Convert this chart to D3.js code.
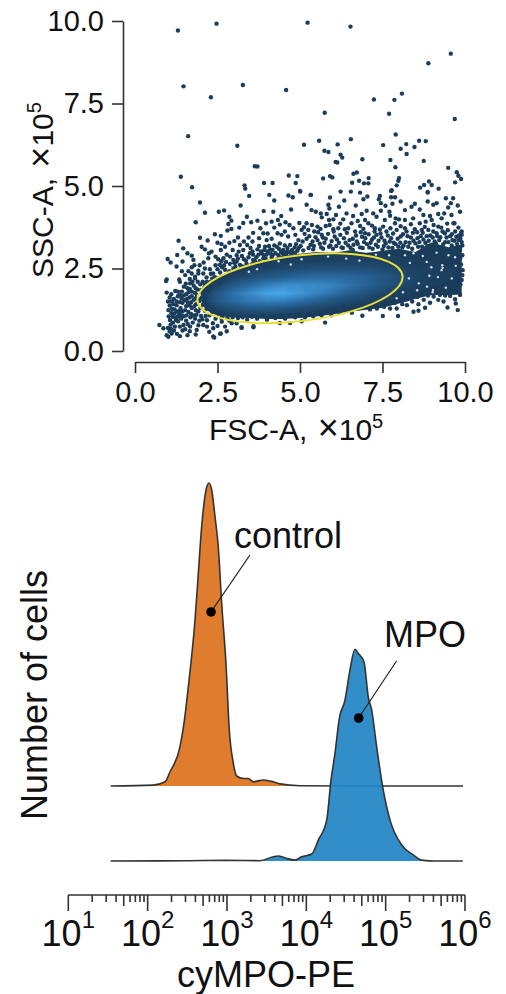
<!DOCTYPE html>
<html>
<head>
<meta charset="utf-8">
<script src="https://cdn.jsdelivr.net/npm/d3@7"></script>
<style>
body { margin: 0; background: #fff; }
text { font-family: "Liberation Sans", Arial, sans-serif; fill: #111; }
.axis path, .axis line { stroke: #333; stroke-width: 1.6; }
.axis text { font-size: 29px; fill: #111; }
</style>
</head>
<body>
<svg id="chart" width="506" height="994"></svg>
<script>
// top panel, values in units of 10^5
let outliers = [[1.30,9.71],[2.47,9.92],[5.23,9.95],[6.53,9.83],[9.57,9.01],[8.89,8.72],[1.47,8.02],[3.27,8.06],[4.58,7.91],[2.30,7.69],[7.24,7.62],[7.86,7.61],[8.09,7.80],[5.75,7.22],[7.70,7.19],[9.69,7.03],[1.61,6.51],[7.90,6.56],[3.10,6.22],[5.12,6.25],[5.58,6.37],[6.14,6.26],[6.54,6.42],[7.52,6.24],[8.05,6.13],[8.22,6.27],[8.47,6.18],[8.61,6.37],[8.81,6.36],[8.23,5.97],[5.74,6.07],[5.86,6.03],[6.23,5.95],[6.28,5.86],[6.89,5.81],[6.08,5.73],[6.13,5.71],[7.74,5.79],[8.75,5.76],[7.89,5.57],[3.63,5.60],[3.71,5.59],[9.49,5.55],[9.75,5.42],[9.80,5.31],[9.88,5.21],[9.70,5.11],[1.39,5.28],[4.66,5.32],[4.92,5.30],[5.70,5.23],[5.91,5.30],[5.98,5.26],[6.62,5.37],[6.72,5.41],[7.08,5.24],[6.58,5.10],[6.79,5.16],[6.94,5.08],[7.07,5.08],[8.00,5.24],[7.98,5.16],[7.93,5.02],[7.78,4.87],[8.64,4.95],[8.76,5.03],[8.91,5.14],[8.99,5.03],[8.87,4.82],[9.20,4.92],[1.73,4.96],[3.32,5.02],[3.34,4.92],[3.91,5.09],[4.17,5.09],[4.87,5.09],[5.00,4.85],[5.33,4.73]];

let upperLeft = [[1.97,4.50],[3.20,4.41],[3.46,4.70],[4.07,4.73],[4.22,4.56],[4.65,4.71],[4.78,4.66],[5.01,4.83],[2.12,4.19],[2.54,4.22],[2.70,4.26],[2.86,4.07],[2.92,3.95],[2.83,3.85],[1.84,3.90],[3.39,4.07],[3.90,4.24],[4.19,4.22],[4.43,4.09],[3.71,3.95],[3.97,3.87],[4.14,3.92],[4.33,3.97],[4.39,3.83],[4.56,3.90],[4.73,4.29],[2.92,3.70],[2.80,3.65],[2.42,3.54],[2.60,3.49],[1.97,3.43],[2.20,3.35],[1.32,3.34],[2.50,3.28],[3.01,3.33],[2.86,3.28],[3.44,3.44],[3.89,3.57],[4.32,3.57],[4.44,3.52],[4.14,3.40],[3.99,3.36],[4.64,3.47],[4.80,3.72],[5.05,3.67],[2.73,3.16],[2.02,3.16],[2.12,3.08],[1.46,3.11],[1.28,2.91],[1.59,2.96],[1.72,2.89],[0.99,2.79],[1.08,2.68],[1.44,2.71],[1.77,2.76],[2.24,2.96],[2.32,3.01],[2.60,3.06],[3.18,3.21],[3.40,3.21],[2.88,2.86],[3.14,3.01],[3.71,3.08],[3.94,3.16],[4.39,3.26],[4.70,3.21],[4.95,3.36],[2.22,2.81],[2.52,2.78],[2.68,2.81],[3.08,2.71],[3.48,2.96],[3.84,2.96],[4.17,3.06],[4.49,3.06],[1.26,2.56],[1.72,2.54],[1.92,2.43],[2.27,2.48],[2.57,2.61],[2.88,2.64],[3.18,2.61],[3.58,2.76],[3.89,2.81],[1.72,2.35],[2.07,2.35],[2.37,2.35],[2.73,2.46],[1.82,2.25],[2.17,2.23],[0.96,2.17],[1.34,2.17]];

let upperRight = [[5.32,4.73],[5.91,4.65],[6.23,4.83],[6.54,4.83],[6.82,4.80],[7.04,4.68],[6.92,4.60],[7.76,4.85],[7.42,4.70],[7.39,4.60],[7.76,4.66],[7.88,4.66],[8.05,4.53],[7.80,4.46],[8.87,4.80],[9.42,4.63],[9.64,4.63],[6.69,4.41],[6.18,4.37],[6.34,4.56],[5.86,4.43],[5.89,4.32],[5.20,4.43],[5.35,4.27],[5.63,4.17],[5.48,4.22],[6.09,4.12],[6.41,4.17],[5.81,4.15],[7.02,4.25],[6.87,4.15],[7.22,4.17],[7.32,4.07],[7.45,4.48],[7.59,4.40],[7.45,4.25],[7.71,4.22],[7.73,4.10],[6.61,4.09],[6.31,3.99],[6.01,3.99],[5.88,3.97],[5.66,4.05],[6.75,3.94],[6.97,3.97],[7.57,3.97],[7.90,4.02],[8.00,3.99],[8.18,4.27],[8.38,4.37],[8.48,4.46],[8.63,4.29],[8.87,4.53],[9.04,4.43],[9.14,4.48],[9.57,4.48],[9.49,4.35],[9.78,4.41],[9.85,4.22],[9.59,4.12],[9.37,4.17],[9.19,4.15],[8.94,4.09],[8.74,4.12],[8.43,4.02],[8.18,3.97],[8.63,3.87],[5.20,3.87],[5.53,3.77],[5.78,3.79],[6.01,3.69],[6.16,3.72],[6.56,3.87],[6.82,3.79],[7.07,3.87],[7.27,3.72],[7.52,3.77],[7.88,3.87],[8.18,3.72],[8.48,3.69],[8.81,3.92],[8.99,3.97],[9.29,4.02],[9.68,3.87],[9.19,3.77],[5.25,3.67],[5.43,3.62],[5.66,3.52],[6.36,3.69],[6.67,3.62],[6.97,3.57],[7.32,3.52],[7.62,3.62],[7.93,3.67],[8.23,3.62],[8.69,3.67],[8.89,3.67],[9.14,3.57],[9.39,3.57],[9.70,3.62],[9.90,3.62]];

let bandTop = [[5.02,3.18],[5.20,3.40],[5.32,3.22],[5.47,3.45],[5.60,3.25],[5.78,3.40],[5.92,3.20],[6.05,3.47],[6.18,3.28],[6.33,3.42],[6.46,3.20],[6.60,3.40],[6.75,3.25],[6.88,3.46],[7.03,3.24],[7.18,3.38],[7.30,3.22],[7.47,3.44],[7.60,3.26],[7.76,3.42],[7.90,3.24],[8.05,3.47],[8.20,3.30],[8.36,3.44],[8.50,3.26],[8.66,3.48],[8.80,3.28],[8.95,3.50],[9.08,3.32],[9.25,3.45],[9.40,3.30],[9.55,3.48],[9.68,3.34],[9.82,3.50],[9.90,3.30],[5.10,3.05],[5.40,3.08],[5.70,3.10],[6.00,3.10],[6.30,3.12],[6.60,3.06],[6.90,3.12],[7.20,3.10],[7.50,3.08],[7.80,3.12],[8.10,3.14],[8.40,3.10],[8.70,3.16],[9.00,3.18],[9.30,3.14],[9.60,3.20],[9.85,3.12],[4.10,2.95],[4.35,2.90],[4.60,3.00],[4.85,2.98],[3.30,2.45],[3.50,2.55],[3.70,2.62],[2.50,2.20],[2.80,2.30],[3.05,2.42],[2.30,2.10],[2.55,2.05],[2.05,2.10],[2.25,1.95]];

let bandTopDense = [[5.08,3.32],[5.14,3.55],[5.26,3.12],[5.28,3.48],[5.38,3.32],[5.42,3.18],[5.53,3.36],[5.55,3.60],[5.64,3.14],[5.69,3.44],[5.74,3.28],[5.85,3.55],[5.88,3.16],[5.96,3.33],[6.02,3.62],[6.10,3.18],[6.12,3.38],[6.22,3.52],[6.26,3.14],[6.38,3.28],[6.42,3.58],[6.50,3.36],[6.53,3.12],[6.62,3.22],[6.70,3.50],[6.72,3.32],[6.82,3.14],[6.84,3.60],[6.94,3.30],[6.98,3.42],[7.08,3.54],[7.10,3.14],[7.14,3.28],[7.24,3.44],[7.26,3.62],[7.36,3.16],[7.38,3.34],[7.44,3.56],[7.54,3.18],[7.56,3.34],[7.66,3.50],[7.68,3.14],[7.72,3.32],[7.82,3.56],[7.84,3.28],[7.96,3.40],[7.98,3.16],[8.04,3.28],[8.12,3.54],[8.14,3.20],[8.26,3.48],[8.28,3.16],[8.32,3.28],[8.42,3.58],[8.44,3.34],[8.56,3.42],[8.58,3.16],[8.62,3.30],[8.72,3.58],[8.74,3.38],[8.84,3.48],[8.86,3.18],[8.90,3.34],[9.02,3.44],[9.04,3.62],[9.12,3.26],[9.16,3.48],[9.22,3.36],[9.32,3.62],[9.34,3.24],[9.44,3.44],[9.48,3.66],[9.50,3.30],[9.60,3.54],[9.62,3.36],[9.74,3.46],[9.76,3.24],[9.86,3.40],[9.88,3.58],[9.92,3.20]];

let bandUpperExtra = [[5.12,3.75],[5.36,3.82],[5.62,3.70],[5.90,3.82],[6.22,3.86],[6.46,3.72],[6.92,3.70],[7.18,3.80],[7.42,3.68],[7.74,3.72],[8.05,3.78],[8.36,3.84],[8.55,3.60],[8.78,3.76],[9.05,3.82],[9.28,3.74],[9.46,3.86],[9.80,3.74],[2.62,3.24],[3.12,3.44],[3.30,3.32],[3.56,3.32],[3.76,3.42],[3.80,3.72],[4.02,3.56],[4.22,3.74],[4.54,3.62],[4.68,3.82],[4.86,3.52],[4.98,3.88],[3.58,3.58],[3.16,3.74],[3.28,3.88],[3.52,3.90]];

let leftUpperDense = [[2.44,2.86],[2.78,2.92],[2.96,3.06],[2.98,2.76],[3.08,2.90],[3.24,2.88],[3.28,3.06],[3.36,2.74],[3.50,3.12],[3.58,2.92],[3.68,2.84],[3.76,3.18],[3.82,3.02],[3.98,2.92],[4.06,3.18],[4.10,3.08],[4.26,2.96],[4.30,3.16],[4.42,3.00],[4.54,3.20],[4.58,2.94],[4.76,3.06],[4.84,3.14],[4.92,3.04],[3.04,2.56],[3.26,2.56],[3.38,2.64],[2.44,2.60],[2.64,2.54],[2.76,2.70],[2.98,2.50],[2.42,2.24],[2.58,2.38],[2.86,2.42],[2.30,2.34],[2.12,2.50],[2.08,2.68],[1.96,2.60],[1.62,2.42],[1.52,2.30],[2.50,2.48],[2.18,2.10],[2.34,2.20],[2.66,2.24],[1.42,2.42],[1.80,2.60],[1.66,2.18],[3.02,2.66],[3.12,2.80],[3.30,2.78],[3.44,2.84],[3.56,3.02],[3.64,2.72],[3.74,2.92],[3.90,2.90],[3.92,3.06],[4.02,3.02],[4.18,2.92],[4.22,3.20],[4.36,3.10],[4.48,2.96],[4.62,3.12],[4.68,3.00],[4.74,2.94],[4.88,3.24],[4.96,3.12],[3.20,2.50],[3.44,2.50],[3.56,2.64],[3.78,2.72],[3.96,2.80],[4.14,2.84],[4.50,2.92],[2.70,2.60],[2.94,2.62],[2.62,2.72]];

let leftClump = [[0.74,0.79],[0.94,2.12],[0.96,1.77],[1.01,0.43],[0.86,0.69],[0.96,0.48],[1.11,0.53],[1.36,0.45],[1.59,0.48],[1.84,0.50],[2.40,0.41],[2.60,0.53],[2.37,0.69],[2.07,0.79],[1.87,0.64],[2.73,0.74],[3.23,0.72],[3.59,0.72],[3.08,0.84],[2.93,0.84],[2.63,0.89],[1.06,0.94],[1.21,0.74],[1.47,0.79],[1.67,0.74],[1.01,1.24],[1.11,1.50],[1.26,1.39],[1.41,1.60],[1.59,1.90],[1.67,2.05],[1.36,2.10],[1.82,2.20],[1.92,2.35],[1.00,0.70],[1.05,0.60],[1.18,0.62],[1.27,0.52],[1.30,0.90],[1.44,0.62],[1.55,0.92],[1.75,0.86],[1.95,0.92],[2.18,0.93],[2.25,0.58],[1.02,1.05],[1.10,1.15],[1.22,1.02],[1.34,1.12],[1.48,1.05],[1.62,1.18],[1.78,1.08],[1.92,1.20],[1.05,1.38],[1.20,1.26],[1.38,1.30],[1.55,1.36],[1.72,1.30],[1.85,1.42],[1.18,1.58],[1.30,1.66],[1.50,1.54],[1.65,1.62],[1.78,1.55],[1.88,1.70],[1.42,1.80],[1.55,1.72],[1.72,1.80],[1.90,1.86],[1.98,2.02],[1.48,1.95],[1.78,1.98],[1.10,1.72],[1.22,1.82],[1.05,1.62],[1.15,0.86],[1.40,0.98],[1.12,1.28],[1.28,1.20],[1.44,1.20],[1.68,1.02],[1.84,1.24],[2.00,1.06],[2.12,1.22],[2.26,1.08],[2.06,1.40],[2.20,1.32],[2.12,1.62],[2.20,1.80],[2.04,1.76],[1.96,1.52],[2.34,1.18],[2.44,0.98],[2.50,1.16],[2.66,1.06],[2.80,1.00],[2.96,1.02],[1.60,1.46],[1.36,1.48],[1.70,1.48],[1.30,1.80],[1.62,1.78],[1.84,1.90],[2.10,1.92],[2.34,1.96],[1.16,1.42],[1.56,1.08],[1.92,0.78],[1.66,0.60],[2.18,0.74],[2.50,0.76],[2.86,0.92],[3.12,1.00],[1.08,0.80],[1.24,0.94],[1.36,0.74],[1.52,0.66],[1.60,0.82],[1.82,0.98],[2.04,0.96],[2.14,1.06],[1.14,1.04],[1.30,1.04],[1.42,1.08],[1.70,1.12],[1.86,1.10],[1.98,1.30],[2.10,1.50],[1.20,1.14],[1.36,1.22],[1.52,1.24],[1.66,1.38],[1.80,1.36],[1.92,1.56],[2.02,1.62],[1.26,1.50],[1.44,1.46],[1.58,1.58],[1.72,1.66],[1.84,1.60],[1.36,1.70],[1.48,1.68],[1.66,1.88],[1.82,1.76],[2.00,1.84],[1.54,2.04],[1.74,2.10],[1.90,2.10],[2.12,2.02],[1.00,1.50],[1.08,0.68],[2.36,0.84],[2.62,1.00]];

let lowerEdge = [[5.76,0.86],[6.89,1.07],[7.51,1.06],[7.97,1.06],[8.44,1.19],[8.59,1.22],[8.79,1.31],[9.47,1.32],[9.78,1.24],[9.72,1.44],[9.70,1.57],[9.55,1.67],[9.35,1.50],[9.19,1.55],[8.94,1.46],[8.59,1.42],[8.24,1.39],[7.93,1.29],[7.73,1.29],[7.33,1.29],[6.57,1.16],[7.12,1.26],[9.85,1.70],[9.80,1.90],[9.90,2.15],[9.93,2.45],[9.85,2.81],[9.90,3.52],[9.80,3.36],[9.85,3.06],[9.65,3.87],[4.70,0.85],[4.39,0.85],[5.05,0.90],[3.23,0.70],[3.59,0.75],[2.58,0.52],[2.37,0.44],[2.78,0.60],[3.40,0.95],[3.70,0.98],[4.00,0.95],[4.25,1.00],[4.55,0.98],[4.85,1.02],[5.15,1.02],[5.40,1.05],[5.65,1.08],[5.95,1.08],[6.20,1.15],[6.45,1.25],[6.75,1.28],[7.00,1.32],[7.55,1.34],[8.10,1.42],[8.40,1.50],[8.75,1.55],[9.05,1.65],[9.40,1.68],[9.65,1.78],[3.26,1.02],[3.54,1.04],[3.86,1.06],[4.14,1.04],[4.42,1.08],[4.70,1.10],[5.00,1.12],[5.28,1.14],[5.54,1.16],[5.82,1.20],[6.08,1.24],[6.32,1.34],[6.62,1.36],[6.88,1.40],[7.22,1.42],[7.42,1.40],[7.70,1.44],[7.88,1.46],[8.30,1.62],[8.56,1.64],[8.88,1.68],[9.24,1.70],[9.86,2.02],[9.92,2.30],[9.88,2.62],[9.92,2.90]];

// light gaps inside the dense band
let gaps = [[9.29,2.45],[9.03,1.85],[7.93,1.60],[8.84,2.70],[8.33,2.67],[9.32,2.52],[2.95,2.60],[4.72,2.62],[6.80,2.74],[8.60,2.05],[9.31,2.60],[9.02,1.78],[9.60,2.20],[8.92,2.28],[8.30,2.20],[9.50,2.90],[8.72,2.88],[9.14,2.98],[8.18,2.90],[7.70,2.90],[7.30,2.92],[9.72,2.58],[8.55,1.84],[8.85,1.95],[6.40,2.80],[5.05,2.78],[4.35,2.72],[3.70,2.48],[3.45,2.40],[5.85,2.86],[8.12,1.78],[8.44,2.96],[8.98,2.54],[9.42,1.92],[9.70,2.84],[9.18,2.24]];

// gate outline
let gateX = [8.11,7.69,6.56,5.00,3.45,2.31,1.89,2.31,3.44,5.00,6.55,7.69];
let gateY = [2.24,2.70,2.94,2.90,2.60,2.11,1.56,1.10,0.86,0.90,1.20,1.69];

// density of the band, columns FSC 0.5 to 10 step 0.5, rows SSC 0.25 up, step 0.25
let densityFsc = d3.range(0.5, 10.01, 0.5);
let densitySsc = d3.range(0.25, 3.76, 0.25);
let densityRows = [
    [0,0,0,0,0,0,0,0,0,0,0,0,0,0,0,0,0,0,0,0],
    [0,0,0,0,0,0,0,0,0,0,0,0,0,0,0,0,0,0,0,0],
    [0,0,.1,.2,.2,.3,.3,.2,.2,.1,0,0,0,0,0,0,0,0,0,0],
    [0,.2,.4,.5,.7,.9,1,1.1,1.1,1,.8,.6,.4,.2,.1,0,0,0,0,0],
    [0,.3,.5,.7,1.8,2.8,3.4,3.4,3,2.4,1.9,1.5,1.2,1,.9,.7,.4,.2,0,0],
    [0,.3,.5,.9,3.8,5.5,6.5,7,6.6,5.6,4.4,3.2,2.3,1.7,1.3,1.1,.9,.8,.8,.7],
    [0,.2,.5,.9,3.8,6.2,8,9.6,10,8.8,7.4,6,4.4,3.2,2.2,1.5,1.2,1.05,1.05,1.05],
    [0,0,.3,.7,2,4,5.5,7,8,8,7.8,7.4,6.2,5,3.6,2.5,1.7,1.3,1.2,1.1],
    [0,0,.2,.5,1,1.9,2.8,3.8,4.4,5,5.4,5.4,5.2,4.6,3.8,2.8,2,1.5,1.3,1.2],
    [0,0,.1,.3,.6,.9,1.5,1.8,2.2,2.6,3,3,3,2.9,2.6,2.1,1.7,1.5,1.3,1.2],
    [0,0,0,.1,.3,.5,.7,1,1.3,1.4,1.5,1.6,1.6,1.6,1.5,1.4,1.3,1.2,1.1,1.1],
    [0,0,0,0,.1,.3,.4,.6,.8,.9,1,.95,1.1,.95,1.05,1.1,1,1.15,1.2,1.05],
    [0,0,0,0,0,.1,.2,.3,.4,.5,.6,.75,.6,.8,.7,.85,.8,1.05,.85,1],
    [0,0,0,0,0,0,0,.1,.2,.3,.4,.5,.5,.6,.6,.6,.7,.7,.7,.7],
    [0,0,0,0,0,0,0,0,0,0,0,0,0,0,0,0,0,0,0,0]
];

let scatterTicks = [0, 2.5, 5, 7.5, 10];

// bottom panel, x as log10 of the signal, y as share of the control peak
let controlLog = [1.534,2.071,2.219,2.282,2.408,2.458,2.513,2.597,2.639,2.681,2.736,2.773,2.807,2.849,2.890,2.933,2.987,3.029,3.080,3.122,3.206,3.269,3.332,3.458,3.584,3.668,3.920,4.5,5.975];
let controlCount = [0,.003,.014,.047,.130,.207,.328,.548,.702,.856,.977,1,.977,.889,.79,.603,.405,.185,.075,.033,.025,.025,.014,.020,.014,.007,.001,0,0];
let mpoLog = [1.534,2.5,3.0,3.416,3.584,3.647,3.731,3.857,3.942,4.068,4.151,4.257,4.311,4.361,4.416,4.487,4.55,4.613,4.655,4.727,4.781,4.824,4.887,4.963,5.055,5.202,5.348,5.454,5.622,5.971];
let mpoCount = [0,.001,.002,.001,.014,.0165,.010,.003,.014,.023,.069,.135,.267,.355,.471,.531,.630,.699,.685,.657,.541,.498,.376,.244,.135,.053,.020,.003,0,0];
let controlOffset = 0.2475;
let decades = [1, 2, 3, 4, 5, 6];

let labelNames = ["control", "MPO"];
let labelLog = [3.088, 4.979];
let labelLevel = [1.033, 0.706];
let dotLog = [2.799, 4.660];
let dotLevel = [0.822, 0.472];
let leaderLog = [3.290, 5.139];
let leaderLevel = [1.01, 0.661];

let svg = d3.select("#chart");

drawScatter();
drawHistogram();

function drawScatter() {
    let x = d3.scaleLinear().domain([0, 10]).range([135, 465]);
    let y = d3.scaleLinear().domain([0, 10]).range([351, 21]);

    svg.append("clipPath").attr("id", "bandClip")
        .append("rect")
        .attr("x", x(0)).attr("y", y(10))
        .attr("width", x(9.9) - x(0)).attr("height", y(0) - y(10));

    // dense part of the band as filled density levels
    let values = densityRows.flat();
    let levels = d3.range(1, 10.01, 0.25);
    let colour = d3.scaleLinear().domain([1, 5.5, 10]).range(["#1a3c5a", "#2b6ca3", "#4aa9ee"]);
    let contours = d3.contours().size([densityFsc.length, densitySsc.length]).thresholds(levels)(values);
    let toPixels = d3.geoTransform({
        point: function (gx, gy) {
            this.stream.point(x(densityFsc[0] + (gx - 0.5) * 0.5), y(densitySsc[0] + (gy - 0.5) * 0.25));
        }
    });
    let path = d3.geoPath(toPixels);

    svg.append("g").attr("clip-path", "url(#bandClip)")
        .append("g").style("filter", "blur(0.7px)")
        .selectAll("path")
        .data(contours)
        .join("path")
        .attr("d", path)
        .attr("fill", d => colour(d.value));

    let points = [].concat(outliers, upperLeft, upperRight, bandTop, bandTopDense, bandUpperExtra, leftUpperDense, leftClump, lowerEdge);
    svg.append("g").selectAll("circle")
        .data(points)
        .join("circle")
        .attr("cx", d => x(d[0]))
        .attr("cy", d => y(d[1]))
        .attr("r", 2.2)
        .attr("fill", "#1b3d5c");

    svg.append("g").selectAll("circle")
        .data(gaps)
        .join("circle")
        .attr("cx", d => x(d[0]))
        .attr("cy", d => y(d[1]))
        .attr("r", 1.2)
        .attr("fill", "#d5e1ec");

    // gate
    let gate = d3.line().curve(d3.curveCardinalClosed.tension(0))
        .x(d => x(d[0])).y(d => y(d[1]));
    svg.append("path")
        .datum(gateX.map((v, i) => [v, gateY[i]]))
        .attr("d", gate)
        .attr("fill", "none")
        .attr("stroke", "#e9df3a")
        .attr("stroke-width", 2);

    svg.append("g").attr("class", "axis")
        .attr("transform", "translate(123,0)")
        .call(d3.axisLeft(y).tickValues(scatterTicks).tickFormat(d3.format(".1f")).tickSize(11).tickSizeOuter(0).tickPadding(8));

    svg.append("g").attr("class", "axis")
        .attr("transform", "translate(0,362)")
        .call(d3.axisBottom(x).tickValues(scatterTicks).tickFormat(d3.format(".1f")).tickSize(11).tickSizeOuter(0).tickPadding(6))
        .selectAll("text").attr("dy", "0.8em");

    timesTitle(svg.append("text").attr("x", 209).attr("y", 440), "FSC-A, ");
    timesTitle(svg.append("text").attr("transform", "translate(53,278) rotate(-90)"), "SSC-A, ");
}

// axis title with the x10^5 multiplier
function timesTitle(sel, name) {
    sel.style("font-size", "30px");
    sel.append("tspan").text(name);
    sel.append("tspan").attr("dx", 2).style("font-size", "36px").text("\u00d7");
    sel.append("tspan").text("10");
    sel.append("tspan").attr("dy", -12).style("font-size", "20px").text("5");
}

function drawHistogram() {
    let x = d3.scaleLog().domain([10, 1e6]).range([68.3, 465]);
    let y = d3.scaleLinear().domain([0, 1 + controlOffset]).range([861, 483]);

    let area = d3.area().curve(d3.curveMonotoneX)
        .x(d => x(Math.pow(10, d[0])))
        .y1(d => y(d[1] + d[2]))
        .y0(d => y(d[2]));
    let line = d3.line().curve(d3.curveMonotoneX)
        .x(d => x(Math.pow(10, d[0])))
        .y(d => y(d[1] + d[2]));

    let control = controlLog.map((v, i) => [v, controlCount[i], controlOffset]);
    let mpo = mpoLog.map((v, i) => [v, mpoCount[i], 0]);

    svg.append("path").attr("d", area(control)).attr("fill", "#e07c2e");
    svg.append("path").attr("d", line(control)).attr("fill", "none").attr("stroke", "#333").attr("stroke-width", 1.6);
    svg.append("path").attr("d", area(mpo)).attr("fill", "#1f84c4").attr("fill-opacity", 0.92);
    svg.append("path").attr("d", line(mpo)).attr("fill", "none").attr("stroke", "#333").attr("stroke-width", 1.6);

    // leaders and labels
    labelNames.forEach(function (name, i) {
        svg.append("line")
            .attr("x1", x(Math.pow(10, dotLog[i]))).attr("y1", y(dotLevel[i]))
            .attr("x2", x(Math.pow(10, leaderLog[i]))).attr("y2", y(leaderLevel[i]))
            .attr("stroke", "#222").attr("stroke-width", 1.2);
        svg.append("circle")
            .attr("cx", x(Math.pow(10, dotLog[i]))).attr("cy", y(dotLevel[i]))
            .attr("r", 4.8).attr("fill", "#000");
        svg.append("text")
            .attr("x", x(Math.pow(10, labelLog[i]))).attr("y", y(labelLevel[i]))
            .style("font-size", "36px")
            .text(name);
    });

    svg.append("text")
        .attr("transform", "translate(47,820) rotate(-90)")
        .style("font-size", "36px")
        .text("Number of cells");

    // log axis with three tick lengths
    let axisY = 895;
    let ticks = [];
    decades.forEach(function (d, i) {
        ticks.push({ v: Math.pow(10, d), len: 16 });
        if (i < decades.length - 1) {
            [2, 3, 4, 5, 6, 7, 8, 9].forEach(function (m) {
                ticks.push({ v: m * Math.pow(10, d), len: m === 5 ? 11 : 7 });
            });
        }
    });
    let axis = svg.append("g").attr("class", "axis");
    axis.append("path").attr("d", "M" + x(10) + "," + axisY + "H" + x(1e6)).attr("fill", "none");
    axis.selectAll("line").data(ticks).join("line")
        .attr("x1", d => x(d.v)).attr("x2", d => x(d.v))
        .attr("y1", axisY).attr("y2", d => axisY + d.len);

    decades.forEach(function (d) {
        let t = svg.append("text")
            .attr("x", x(Math.pow(10, d))).attr("y", 946)
            .attr("text-anchor", "middle")
            .style("font-size", "36px");
        t.append("tspan").text("10");
        t.append("tspan").attr("dy", -18).style("font-size", "24px").text(d);
    });

    svg.append("text")
        .attr("x", 266).attr("y", 987)
        .attr("text-anchor", "middle")
        .style("font-size", "36px")
        .text("cyMPO-PE");
}
</script>
</body>
</html>
